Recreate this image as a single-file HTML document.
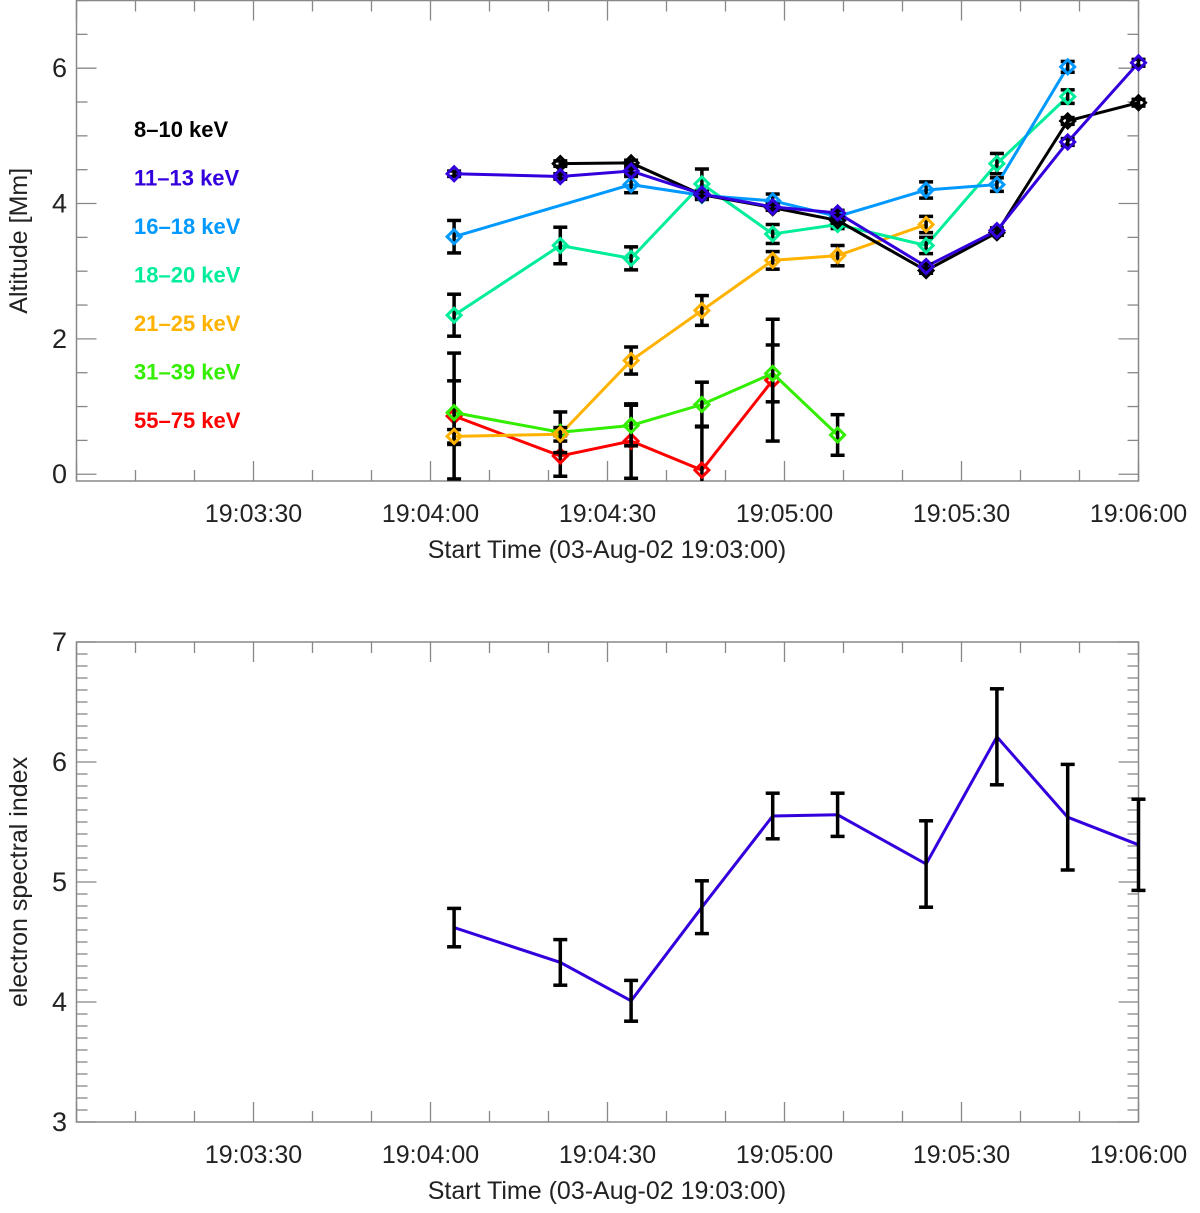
<!DOCTYPE html>
<html><head><meta charset="utf-8"><style>
body{margin:0;background:#fff}
svg text{font-family:"Liberation Sans",sans-serif}
</style></head><body>
<svg id="c" width="1200" height="1208" xmlns="http://www.w3.org/2000/svg"></svg>
<script>
// shared time axis (seconds after 19:03:00)
const times = [64, 82, 94, 106, 118, 129, 144, 156, 168, 180];
const xTickLabels = ["19:03:30","19:04:00","19:04:30","19:05:00","19:05:30","19:06:00"];
const xTickSecs = [30,60,90,120,150,180];
// top panel series (altitude Mm), null = missing
const seriesNames = ["8-10 keV","11-13 keV","16-18 keV","18-20 keV","21-25 keV","31-39 keV","55-75 keV"];
const alt810  = [null,4.59,4.60,4.13,3.94,3.75,3.01,3.57,5.22,5.49];
const alt1113 = [4.44,4.40,4.48,4.14,3.95,3.86,3.07,3.60,4.91,6.08];
const alt1618 = [3.51,null,4.28,4.12,4.04,3.81,4.20,4.28,6.02,null];
const alt1820 = [2.35,3.38,3.19,4.29,3.55,3.69,3.38,4.59,5.58,null];
const alt2125 = [0.56,0.59,1.68,2.42,3.16,3.23,3.69,null,null,null];
const alt3139 = [0.91,0.62,0.72,1.03,1.49,0.58,null,null,null,null];
const alt5575 = [0.86,0.27,0.49,0.06,1.39,null,null,null,null,null];
const err810  = [0,0.04,0.04,0.04,0.04,0.04,0.04,0.04,0.05,0.05];
const err1113 = [0.04,0.04,0.04,0.04,0.04,0.04,0.04,0.04,0.05,0.05];
const err1618 = [0.24,0,0.12,0.06,0.1,0.06,0.12,0.1,0.08,0];
const err1820 = [0.31,0.27,0.17,0.22,0.14,0.06,0.12,0.15,0.1,0];
const err2125 = [0.1,0.1,0.2,0.22,0.13,0.15,0.12,0,0,0];
const err3139 = [0.47,0.3,0.3,0.33,0.42,0.3,0,0,0,0];
const err5575 = [0.93,0.3,0.55,0.65,0.9,0,0,0,0,0];
const seriesColors = ["#000000","#3300dd","#0099ff","#00ee99","#ffb300","#33ee00","#ff0000"];
// bottom panel
const specIndex = [4.62,4.33,4.01,4.79,5.55,5.56,5.15,6.21,5.54,5.31];
const specErr   = [0.16,0.19,0.17,0.22,0.19,0.18,0.36,0.40,0.44,0.38];

const svg=document.getElementById('c');
const NS="http://www.w3.org/2000/svg";
function mk(tag,attrs,parent){const e=document.createElementNS(NS,tag);for(const k in attrs)e.setAttribute(k,attrs[k]);(parent||svg).appendChild(e);return e;}
const X0=76.5,X1=1138.5;
const sx=s=>X0+(X1-X0)*s/180;
let clipN=0;
function panel(name,top,bot,ymin,ymax,yMajor,yMinor,yTitle){
  const g=mk('g',{});
  
  
  const sy=v=>bot-(bot-top)*(v-ymin)/(ymax-ymin);
  const cid='clip'+(clipN++);
  const cp=mk('clipPath',{id:cid},g);mk('rect',{x:X0-20,y:top,width:X1-X0+40,height:bot-top},cp);
  const f=mk('rect',{x:X0,y:top,width:X1-X0,height:bot-top,fill:'none',stroke:'#888','stroke-width':1.5},g);
  
  for(let s=0;s<=180;s+=10){const L=(s%30===0)?20:11;const x=sx(s);
    mk('line',{x1:x,x2:x,y1:bot,y2:bot-L,stroke:'#888','stroke-width':1.3},g);
    mk('line',{x1:x,x2:x,y1:top,y2:top+L,stroke:'#888','stroke-width':1.3},g);}
  xTickLabels.forEach((t,i)=>{const e=mk('text',{x:sx(xTickSecs[i]),y:bot+41,'text-anchor':'middle','font-size':25,fill:'#222'},g);e.textContent=t;
    });
  const xt=mk('text',{x:607,y:bot+77,'text-anchor':'middle','font-size':25,fill:'#222'},g);xt.textContent='Start Time (03-Aug-02 19:03:00)';
  
  for(let k=Math.ceil(ymin/yMinor-1e-6);k*yMinor<=ymax+1e-6;k++){
    const vv=Math.round(k*yMinor*100)/100;
    const maj=Math.abs(vv/yMajor-Math.round(vv/yMajor))<1e-6;const L=maj?20:11;const y=sy(vv);
    mk('line',{x1:X0,x2:X0+L,y1:y,y2:y,stroke:'#888','stroke-width':1.3},g);
    mk('line',{x1:X1,x2:X1-L,y1:y,y2:y,stroke:'#888','stroke-width':1.3},g);
    if(maj){const e=mk('text',{x:67,y:y+9,'text-anchor':'end','font-size':27,fill:'#222'},g);e.textContent=String(vv);
      }}
  const yt=mk('text',{x:0,y:0,'text-anchor':'middle','font-size':25,fill:'#222',transform:`translate(27,${(top+bot)/2}) rotate(-90)`},g);yt.textContent=yTitle;
  
  const inner=mk('g',{'clip-path':`url(#${cid})`},g);
  return {g,inner,sy};
}
function errbar(g,x,y1,y2){mk('line',{x1:x,x2:x,y1:y1,y2:y2,stroke:'#000','stroke-width':3.5},g);
  mk('line',{x1:x-7,x2:x+7,y1:y1,y2:y1,stroke:'#000','stroke-width':3.5},g);
  mk('line',{x1:x-7,x2:x+7,y1:y2,y2:y2,stroke:'#000','stroke-width':3.5},g);}

// top panel
const P1=panel('altitude-panel',0.5,481,-0.1,7.0,2,0.5,'Altitude [Mm]');
const alts=[alt810,alt1113,alt1618,alt1820,alt2125,alt3139,alt5575];
const errs=[err810,err1113,err1618,err1820,err2125,err3139,err5575];
const order=[6,5,4,3,2,0,1];
order.forEach(si=>{
  const g=mk('g',{},P1.inner);
  
  
  const d=alts[si],col=seriesColors[si];let path='';
  d.forEach((v,i)=>{if(v===null)return;path+=(path?'L':'M')+sx(times[i])+','+P1.sy(v);});
  mk('path',{d:path,fill:'none',stroke:col,'stroke-width':3},g);
  d.forEach((v,i)=>{if(v===null)return;const e=errs[si][i];if(e>0)errbar(g,sx(times[i]),P1.sy(v+e),P1.sy(v-e));});
  d.forEach((v,i)=>{if(v===null)return;const x=sx(times[i]),y=P1.sy(v),r=7;
    const m=mk('path',{d:`M${x-r},${y}L${x},${y-r}L${x+r},${y}L${x},${y+r}Z`,fill:'none',stroke:col,'stroke-width':3},g);
    });
});
const lg=mk('g',{},P1.g);

seriesNames.forEach((n,i)=>{const e=mk('text',{x:134,y:137+48.5*i,'font-size':22,'font-weight':'bold',fill:seriesColors[i]},lg);
  e.textContent=n.replace('-','\u2013');
  });

// bottom panel
const P2=panel('spectral-index-panel',642,1122,3,7,1,0.1,'electron spectral index');
const g2=mk('g',{},P2.inner);

let p2='';specIndex.forEach((v,i)=>{p2+=(i?'L':'M')+sx(times[i])+','+P2.sy(v);});
mk('path',{d:p2,fill:'none',stroke:'#3300dd','stroke-width':3},g2);
specIndex.forEach((v,i)=>errbar(g2,sx(times[i]),P2.sy(v+specErr[i]),P2.sy(v-specErr[i])));
</script>
</body></html>
